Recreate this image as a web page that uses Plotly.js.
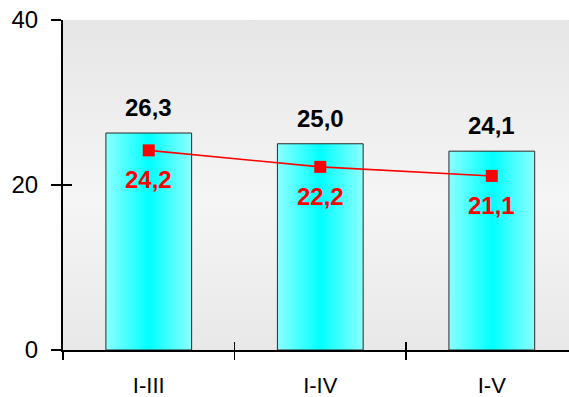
<!DOCTYPE html>
<html><head><meta charset="utf-8">
<script src="https://cdn.plot.ly/plotly-3.0.1.min.js"></script>
<style>html,body{margin:0;padding:0;background:#fff;}#chart{width:569px;height:397px;}</style>
</head><body><div id="chart"></div>
<script>
const categories = ['I-III', 'I-IV', 'I-V'];
const barValues = [26.3, 25.0, 24.1];
const lineValues = [24.2, 22.2, 21.1];
const yTickValues = [0, 20, 40];

const FONT = 'Liberation Sans, Arial, sans-serif';
const fmt = v => v.toFixed(1).replace('.', ',');

const traces = [
  {type: 'bar', x: categories, y: barValues, width: 0.5,
   marker: {color: '#40ffff', line: {color: '#2a2a2a', width: 1}}, hoverinfo: 'none'},
  {type: 'scatter', mode: 'lines+markers', x: categories, y: lineValues, xaxis: 'x2', yaxis: 'y2',
   line: {color: '#ff0000', width: 1.6},
   marker: {symbol: 'square', size: 12, color: '#ff0000'}, hoverinfo: 'none'}
];

const annotations = [];
categories.forEach((c, i) => {
  annotations.push({x: c, y: barValues[i], xref: 'x', yref: 'y', text: '<b>' + fmt(barValues[i]) + '</b>',
    showarrow: false, yanchor: 'bottom', yshift: 10, font: {family: FONT, size: 24, color: '#000000'}});
  annotations.push({x: c, y: lineValues[i], xref: 'x2', yref: 'y2', text: '<b>' + fmt(lineValues[i]) + '</b>',
    showarrow: false, yanchor: 'top', yshift: -14, font: {family: FONT, size: 24, color: '#ff0000'}});
});

const layout = {
  width: 569, height: 397,
  margin: {l: 63, r: 0, t: 20, b: 47, pad: 0},
  paper_bgcolor: '#ffffff', plot_bgcolor: '#efefef',
  showlegend: false,
  font: {family: FONT, size: 22, color: '#000000'},
  xaxis: {type: 'category', categoryarray: categories, range: [-0.5, 2.45], tickson: 'boundaries',
    ticks: 'outside', ticklen: 8, tickwidth: 1.5, tickcolor: '#000', showline: true, linecolor: '#000',
    linewidth: 2, showgrid: false, zeroline: false, ticklabelstandoff: 15,
    tickfont: {family: FONT, size: 22, color: '#000'}},
  yaxis: {range: [0, 40], tickvals: yTickValues, ticks: 'outside', ticklen: 10, tickwidth: 1.5,
    tickcolor: '#000', showline: true, linecolor: '#000', linewidth: 2, showgrid: false,
    zeroline: false, ticklabelstandoff: 8, tickfont: {family: FONT, size: 24, color: '#000'}},
  xaxis2: {type: 'category', categoryarray: categories, overlaying: 'x', anchor: 'y2',
    range: [-0.5, 2.45], tickson: 'boundaries', ticks: 'inside', ticklen: 8, tickwidth: 1.5,
    tickcolor: '#000', showticklabels: false, showgrid: false, zeroline: false, showline: false},
  yaxis2: {overlaying: 'y', anchor: 'x2', side: 'left', range: [-0.02, 40.02], tickvals: yTickValues,
    ticks: 'inside', ticklen: 9, tickwidth: 1.5, tickcolor: '#000', showticklabels: false,
    showgrid: false, zeroline: false, showline: false},
  annotations: annotations
};

Plotly.newPlot('chart', traces, layout, {staticPlot: true, displayModeBar: false}).then(gd => {
  const svg = gd.querySelector('svg.main-svg');
  const ns = 'http://www.w3.org/2000/svg';
  const defs = document.createElementNS(ns, 'defs');
  defs.innerHTML =
    '<linearGradient id="barGrad" x1="0" y1="0" x2="1" y2="0">' +
    '<stop offset="0" stop-color="#8cffff"/><stop offset="0.5" stop-color="#00ffff"/><stop offset="1" stop-color="#8cffff"/></linearGradient>' +
    '<linearGradient id="bgGrad" x1="0" y1="0" x2="0" y2="1">' +
    '<stop offset="0" stop-color="#e6e6e6"/><stop offset="0.55" stop-color="#f5f5f5"/><stop offset="1" stop-color="#e8e8e8"/></linearGradient>';
  svg.insertBefore(defs, svg.firstChild);
  gd.querySelectorAll('.barlayer .point path').forEach(p => { p.style.fill = 'url(#barGrad)'; });
  gd.querySelectorAll('rect.bg').forEach(r => {
    if (!r.closest('.legend')) r.style.fill = 'url(#bgGrad)';
  });
});
</script>
</body></html>
